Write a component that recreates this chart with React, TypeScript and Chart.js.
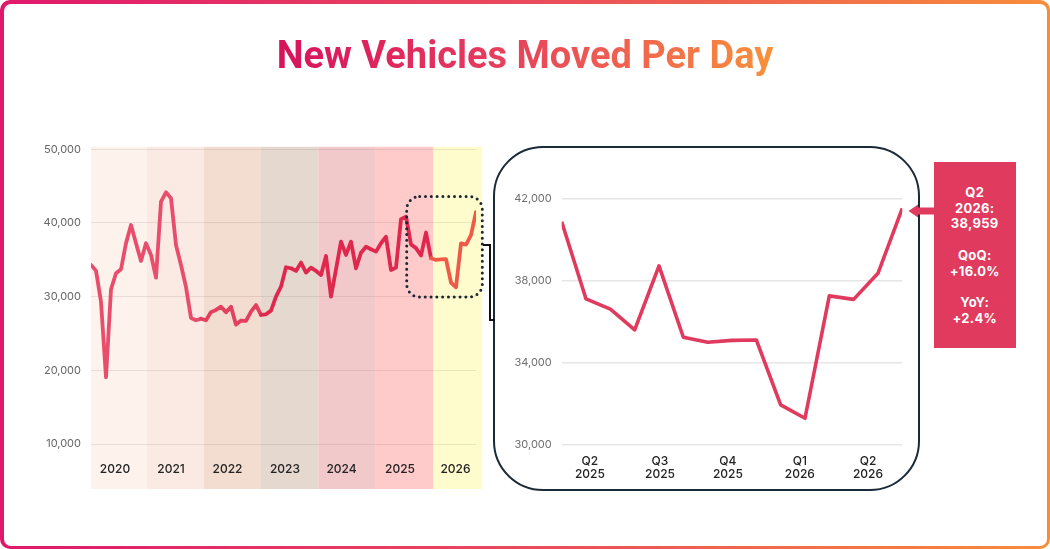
import React, { useEffect, useRef } from 'react';
import { Chart, registerables } from 'chart.js';

Chart.register(...registerables);
Chart.defaults.font.family = 'Inter, "Noto Sans", sans-serif';

// Monthly new vehicles moved per day, Jan 2020 onward
const historyValues = [
  34300, 33530, 29300, 19060, 31000, 33170, 33720, 37250, 39730, 37250, 34840, 37250,
  35660, 32580, 42890, 44160, 43350, 37010, 34300, 31300, 27100, 26800, 27000, 26800,
  27900, 28200, 28640, 27880, 28640, 26200, 26750, 26700, 27970, 28850, 27520, 27600,
  28100, 30000, 31360, 33990, 33850, 33490, 34620, 33260, 33940, 33490, 32940, 35520,
  30000, 33700, 37460, 35660, 37460, 33850, 35970, 36780, 36430, 36110, 37250, 38140,
  33620, 33940, 40500,
];
// Most recent 15 months (shown in zoom panel)
const recentValues = [
  40860, 37090, 36590, 35580, 38700, 35220, 34980, 35070, 35090, 31920, 31270, 37240,
  37070, 38340, 41510,
];
const monthlyValues = [...historyValues, ...recentValues];

const yearLabels = ['2020', '2021', '2022', '2023', '2024', '2025', '2026'];
const yearTickPos = [4.8, 16, 27.3, 38.8, 50.1, 61.8, 72.9];
const yearBandEdges = [0, 11.14, 22.6, 34, 45.46, 56.8, 68.46, 78.26];
const yearBandColors = ['#fdf2ec', '#fbeae3', '#f3dcd0', '#e5d8cf', '#f2c9cb', '#ffcaca', '#fefccd'];
const overviewTicks = [10000, 20000, 30000, 40000, 50000];

const zoomQuarterLabels = [['Q2', '2025'], ['Q3', '2025'], ['Q4', '2025'], ['Q1', '2026'], ['Q2', '2026']];
const zoomQuarterPos = [1.16, 4.04, 6.83, 9.79, 12.59];
const zoomTicks = [30000, 34000, 38000, 42000];

const calloutLines = ['Q2', '2026:', '38,959', '', 'QoQ:', '+16.0%', '', 'YoY:', '+2.4%'];

const PINK = '#e03a5e';
const fmt = (v: any) => Number(v).toLocaleString('en-US');

const segmentColor = (i: number) => {
  if (i < 22) return '#e84d6c';
  if (i < 34) return '#e33f5f';
  if (i < 68) return '#df284d';
  return '#ef5a48';
};

const bandsPlugin = {
  id: 'yearBands',
  beforeDraw(chart: any) {
    const { ctx, chartArea, scales } = chart;
    const x = scales.x;
    const top = chartArea.top - 2.5;
    const bottom = chartArea.bottom + 45;
    ctx.save();
    for (let i = 0; i < yearBandColors.length; i++) {
      const x0 = x.getPixelForValue(yearBandEdges[i]);
      const x1 = x.getPixelForValue(yearBandEdges[i + 1]);
      ctx.fillStyle = yearBandColors[i];
      ctx.fillRect(x0, top, x1 - x0, bottom - top);
    }
    ctx.restore();
  },
  afterDatasetsDraw(chart: any) {
    const { ctx, scales } = chart;
    const x = scales.x;
    const y = scales.y;
    const start = historyValues.length;
    const x0 = x.getPixelForValue(start) + 0.7;
    const x1 = x.getPixelForValue(yearBandEdges[yearBandEdges.length - 1]);
    const y0 = y.getPixelForValue(43600);
    const y1 = y.getPixelForValue(29950);
    ctx.save();
    ctx.strokeStyle = '#1c2634';
    ctx.lineWidth = 3;
    ctx.lineCap = 'round';
    ctx.setLineDash([0, 5.8]);
    ctx.beginPath();
    ctx.roundRect(x0, y0, x1 - x0, y1 - y0, 13);
    ctx.stroke();
    ctx.restore();
  },
};

export default function App() {
  const leftRef = useRef<HTMLCanvasElement>(null);
  const rightRef = useRef<HTMLCanvasElement>(null);

  useEffect(() => {
    document.body.style.margin = '0';
    const left = new Chart(leftRef.current as HTMLCanvasElement, {
      type: 'line',
      data: {
        datasets: [
          {
            data: monthlyValues.map((v, i) => ({ x: i, y: v })),
            borderColor: '#df284d',
            borderWidth: 3.8,
            pointRadius: 0,
            borderJoinStyle: 'round',
            borderCapStyle: 'round',
            tension: 0,
            segment: { borderColor: (c: any) => segmentColor(c.p0DataIndex) },
          } as any,
        ],
      },
      options: {
        responsive: false,
        animation: false,
        layout: { padding: { top: 19.3, right: 14, bottom: 0, left: 0 } },
        plugins: { legend: { display: false }, tooltip: { enabled: false } },
        scales: {
          x: {
            type: 'linear',
            min: 0,
            max: monthlyValues.length - 1,
            grid: { display: false },
            border: { display: false },
            afterBuildTicks: (a: any) => {
              a.ticks = yearTickPos.map((v) => ({ value: v }));
            },
            afterFit: (a: any) => {
              a.height = 56;
            },
            ticks: {
              autoSkip: false,
              maxRotation: 0,
              padding: 10,
              color: '#222',
              font: { size: 12, weight: '500' },
              callback: (_v: any, i: number) => yearLabels[i],
            },
          },
          y: {
            min: 10000,
            max: 50000,
            afterBuildTicks: (a: any) => {
              a.ticks = overviewTicks.map((v) => ({ value: v }));
            },
            afterFit: (a: any) => {
              a.width = 51;
            },
            grid: { color: 'rgba(110,80,70,0.13)', drawTicks: false },
            border: { display: false },
            ticks: { padding: 10, color: '#666', font: { size: 11 }, callback: (v: any) => fmt(v) },
          },
        },
      } as any,
      plugins: [bandsPlugin],
    });

    const right = new Chart(rightRef.current as HTMLCanvasElement, {
      type: 'line',
      data: {
        datasets: [
          {
            data: recentValues.map((v, i) => ({ x: i, y: v })),
            borderColor: PINK,
            borderWidth: 3.6,
            pointRadius: 0,
            borderJoinStyle: 'round',
            tension: 0,
          } as any,
        ],
      },
      options: {
        responsive: false,
        animation: false,
        layout: { padding: { top: 18.3, right: 12.7, bottom: 0, left: 0 } },
        plugins: { legend: { display: false }, tooltip: { enabled: false } },
        scales: {
          x: {
            type: 'linear',
            min: 0,
            max: recentValues.length - 1,
            grid: { display: false },
            border: { display: false },
            afterBuildTicks: (a: any) => {
              a.ticks = zoomQuarterPos.map((v) => ({ value: v }));
            },
            afterFit: (a: any) => {
              a.height = 55.7;
            },
            ticks: {
              autoSkip: false,
              maxRotation: 0,
              padding: 2,
              color: '#222',
              font: { size: 12, weight: '500', lineHeight: 1.1 },
              callback: (_v: any, i: number) => zoomQuarterLabels[i],
            },
          },
          y: {
            min: 30000,
            max: 42000,
            afterBuildTicks: (a: any) => {
              a.ticks = zoomTicks.map((v) => ({ value: v }));
            },
            afterFit: (a: any) => {
              a.width = 61.7;
            },
            grid: { color: '#e6e6e6', lineWidth: 1.4, drawTicks: false },
            border: { display: false },
            ticks: { padding: 10, color: '#6f6f6f', font: { size: 11 }, callback: (v: any) => fmt(v) },
          },
        },
      } as any,
    });

    return () => {
      left.destroy();
      right.destroy();
    };
  }, []);

  return (
    <div
      style={{
        position: 'fixed',
        left: 0,
        top: 0,
        width: 1050,
        height: 549,
        overflow: 'hidden',
        background: '#fff',
        fontFamily: 'Inter, sans-serif',
      }}
    >
      <div
        style={{
          position: 'absolute',
          inset: 0,
          borderRadius: 10,
          background: 'linear-gradient(90deg, #e0186c 0%, #ea4a5c 50%, #f78d3b 100%)',
        }}
      />
      <div style={{ position: 'absolute', inset: 3.5, borderRadius: 7, background: '#fff' }} />

      <div
        style={{
          position: 'absolute',
          left: 0,
          top: 32,
          width: 1050,
          textAlign: 'center',
          fontFamily: 'Roboto, Inter, sans-serif',
          fontWeight: 700,
          fontSize: 38,
          lineHeight: '46px',
          letterSpacing: '0px',
        }}
      >
        <span
          style={{
            background: 'linear-gradient(90deg, #d6135b 0%, #e4385e 40%, #ef6250 70%, #f7913b 100%)',
            WebkitBackgroundClip: 'text',
            backgroundClip: 'text',
            color: 'transparent',
          }}
        >
          New Vehicles Moved Per Day
        </span>
      </div>

      <canvas
        ref={leftRef}
        width={450}
        height={370}
        style={{ position: 'absolute', left: 40, top: 130, width: 450, height: 370 }}
      />

      <div
        style={{
          position: 'absolute',
          left: 493,
          top: 146,
          width: 427,
          height: 345,
          boxSizing: 'border-box',
          border: '2.5px solid #1b2a38',
          borderRadius: 50,
          background: '#fff',
        }}
      />

      <canvas
        ref={rightRef}
        width={415}
        height={320}
        style={{ position: 'absolute', left: 500, top: 180, width: 415, height: 320 }}
      />

      <svg
        width={1050}
        height={549}
        style={{ position: 'absolute', left: 0, top: 0, pointerEvents: 'none' }}
      >
        <polyline points="483,245 490,245 490,320 495,320" fill="none" stroke="#111" strokeWidth={2} />
        <rect x={916} y={207.5} width={18.5} height={7} fill={PINK} />
        <polygon points="908.5,211 918,204.5 918,217.5" fill={PINK} />
      </svg>

      <div
        style={{
          position: 'absolute',
          left: 933.5,
          top: 162,
          width: 82.5,
          height: 186,
          background: PINK,
          color: '#fff',
          textAlign: 'center',
          fontFamily: 'Inter, sans-serif',
          fontWeight: 700,
          fontSize: 13,
          letterSpacing: '0.3px',
          lineHeight: '15.8px',
          paddingTop: 22.8,
          boxSizing: 'border-box',
        }}
      >
        {calloutLines.map((t, i) => (
          <div key={i} style={{ height: 15.8 }}>
            {t}
          </div>
        ))}
      </div>
    </div>
  );
}
